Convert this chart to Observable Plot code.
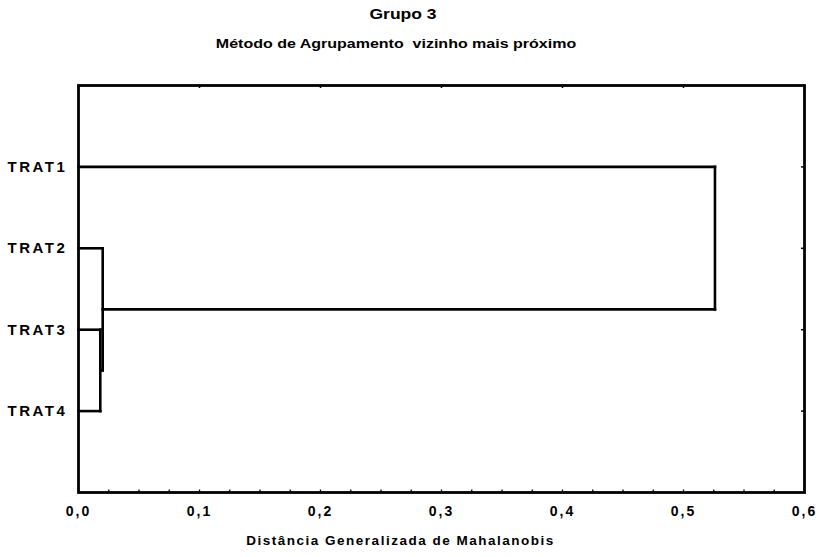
<!DOCTYPE html>
<html><head><meta charset="utf-8">
<script src="https://cdn.jsdelivr.net/npm/d3@7"></script>
<script src="https://cdn.jsdelivr.net/npm/@observablehq/plot@0.6"></script>
<style>
body{margin:0;background:#fff;font-family:"Liberation Sans",Arial,sans-serif;}
#wrap{position:relative;width:822px;height:557px;overflow:hidden;}
#head{position:relative;height:62px;}
.t{position:absolute;white-space:nowrap;font-weight:bold;color:#000;transform-origin:center;}
#title{left:403px;top:6px;font-size:14px;line-height:16px;transform:translateX(-50%) scaleX(1.25);}
#sub{left:396px;top:37px;font-size:12.5px;line-height:14px;transform:translateX(-50%) scaleX(1.28);}
#chart svg{display:block;}
</style></head>
<body><div id="wrap"><div id="head"><div class="t" id="title">Grupo 3</div><div class="t" id="sub">Método de Agrupamento&nbsp; vizinho mais próximo</div></div><div id="chart"></div></div>
<script>
// Leaves (top to bottom)
const leaves = ["TRAT1", "TRAT2", "TRAT3", "TRAT4"];
// Agglomeration steps (single linkage)
const joinName = ["C1", "C2", "C3"];
const joinA = ["TRAT3", "TRAT2", "TRAT1"];
const joinB = ["TRAT4", "C1", "C2"];
const joinDist = [0.018, 0.020, 0.526];
// Axis ticks
const xTicks = [0, 0.1, 0.2, 0.3, 0.4, 0.5, 0.6];
const xTickLabels = ["0,0", "0,1", "0,2", "0,3", "0,4", "0,5", "0,6"];
const xMinorTicks = d3.range(1, 24).map(i => i * 0.025);
const xLabel = "Distância Generalizada de Mahalanobis";

// Build dendrogram segments
const pos = new Map(leaves.map((n, i) => [n, {y: i + 1, d: 0}]));
const segs = [];
joinName.forEach((c, k) => {
  const a = pos.get(joinA[k]), b = pos.get(joinB[k]), d = joinDist[k];
  segs.push({x1: a.d, y1: a.y, x2: d, y2: a.y});
  segs.push({x1: b.d, y1: b.y, x2: d, y2: b.y});
  segs.push({x1: d, y1: a.y, x2: d, y2: b.y});
  pos.set(c, {y: (a.y + b.y) / 2, d});
});

const W = 822, H = 495, mt = 23, mb = 65, ml = 78, mr = 18;
const innerH = H - mt - mb, innerW = W - ml - mr;

const chart = Plot.plot({
  width: W, height: H,
  marginTop: mt, marginBottom: mb, marginLeft: ml, marginRight: mr,
  style: {fontFamily: '"Liberation Sans", Arial, sans-serif', fontWeight: "bold", color: "#000", background: "#fff", overflow: "visible"},
  x: {domain: [0, 0.6]},
  y: {domain: [5, 0]},
  marks: [
    Plot.link(segs, {x1: "x1", y1: "y1", x2: "x2", y2: "y2", stroke: "#000", strokeWidth: 2.6, strokeLinecap: "square"}),
    Plot.tickX(xMinorTicks, {x: d => d, insetTop: innerH - 2.5, stroke: "#000", strokeWidth: 1.3}),
    Plot.tickX(xTicks, {x: d => d, insetBottom: innerH - 3, stroke: "#000", strokeWidth: 1.5}),
    Plot.tickY([1, 2, 3, 4], {y: d => d, insetLeft: innerW - 3, stroke: "#000", strokeWidth: 1.5}),
    Plot.frame({stroke: "#000", strokeWidth: 2.8}),
    Plot.axisX({ticks: xTicks, tickSize: 0, tickPadding: 14, fontSize: 14,
      tickFormat: d => xTickLabels[xTicks.indexOf(d)],
      label: xLabel, labelAnchor: "center", labelOffset: 52, labelArrow: "none"}),
    Plot.axisY({ticks: [1, 2, 3, 4], tickSize: 0, tickPadding: 71, textAnchor: "start", fontSize: 15,
      tickFormat: d => leaves[d - 1], label: null})
  ]
});
document.getElementById("chart").append(chart);
const svg = d3.select(chart);
svg.selectAll('g[aria-label="x-axis tick label"] text').attr("letter-spacing", "2px");
svg.selectAll('g[aria-label="y-axis tick label"] text').attr("letter-spacing", "2.5px");
svg.selectAll('g[aria-label="x-axis label"] text').attr("font-size", "13.5px").attr("letter-spacing", "1.5px").attr("dx", -41);
</script>
</body></html>
